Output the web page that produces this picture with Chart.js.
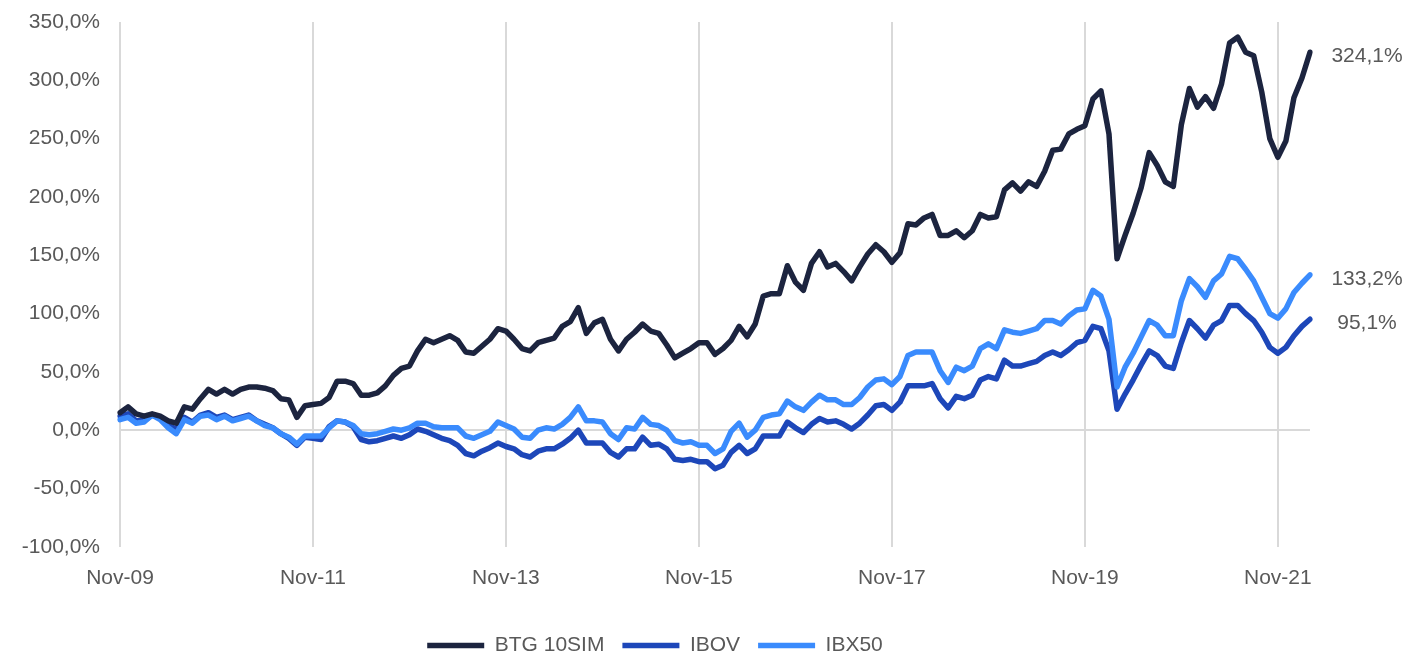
<!DOCTYPE html>
<html>
<head>
<meta charset="utf-8">
<script src="https://cdn.jsdelivr.net/npm/chart.js@4/dist/chart.umd.min.js"></script>
<style>
  html, body { margin: 0; padding: 0; background: #fff; }
  #wrap { width: 1411px; height: 656px; position: relative; }
</style>
</head>
<body>
<div id="wrap"><canvas id="chart"></canvas></div>
<script>
// monthly points, Nov-09 .. Mar-22
const monthNames = ['Jan','Feb','Mar','Apr','May','Jun','Jul','Aug','Sep','Oct','Nov','Dec'];
const labels = [];
for (let i = 0; i < 149; i++) {
  const m = (10 + i) % 12;
  const y = 9 + Math.floor((10 + i) / 12);
  labels.push(monthNames[m] + '-' + String(y).padStart(2, '0'));
}

const btg = [
  15, 20, 14, 12, 14, 12, 8, 6, 20, 18, 27, 35, 31, 35, 31, 35, 37, 37, 36, 34, 27, 26, 11, 21, 22,
  23, 28, 42, 42, 40, 30, 30, 32, 38, 47, 53, 55, 68, 78, 75, 78, 81, 77, 67, 66, 72, 78, 87, 85,
  78, 70, 68, 75, 77, 79, 89, 93, 105, 83, 92, 95, 78, 68, 78, 84, 91, 85, 83, 73, 62, 66, 70, 75,
  75, 65, 70, 77, 89, 80, 91, 115, 117, 117, 141, 127, 120, 143, 153, 140, 143, 136, 128, 140, 151, 159, 153, 144,
  152, 177, 176, 182, 185, 167, 167, 171, 165, 171, 185, 182, 183, 206, 212, 205, 213, 209, 222, 240, 241, 254, 258, 261,
  284, 291, 254, 147, 167, 186, 208, 238, 227, 213, 209, 262, 293, 277, 286, 276, 297, 332, 337, 324, 321, 290, 250, 234,
  248, 285, 302, 324.1
];
const ibov = [
  12, 14, 8, 8, 13, 11, 4, 1, 11, 7, 13, 15, 11, 13, 9, 11, 13, 8, 5, 2, -3, -7, -13, -6, -7,
  -8, 3, 8, 7, 3, -8, -10, -9, -7, -5, -7, -4, 1, -1, -4, -7, -9, -13, -20, -22, -18, -15, -11, -14,
  -16, -21, -23, -18, -16, -16, -12, -7, 0, -11, -11, -11, -19, -23, -16, -16, -6, -13, -12, -16, -25, -26, -25, -27,
  -27, -33, -30, -19, -13, -20, -16, -5, -5, -5, 7, 2, -2, 5, 10, 7, 8, 5, 1, 6, 13, 21, 22, 17,
  24, 38, 38, 38, 40, 27, 19, 29, 27, 30, 43, 46, 44, 60, 55, 55, 57, 59, 64, 67, 64, 69, 75, 77,
  89, 87, 68, 18, 31, 43, 56, 68, 64, 55, 53, 75, 94, 87, 79, 90, 94, 107, 107, 100, 94, 84, 71, 66,
  71, 81, 89, 95.1
];
const ibx50 = [
  9, 11, 6, 7, 13, 9, 2, -3, 9, 6, 12, 13, 9, 12, 8, 10, 12, 8, 4, 2, -3, -6, -12, -5, -5,
  -5, 2, 8, 7, 4, -3, -4, -3, -1, 1, 0, 2, 6, 6, 3, 2, 2, 2, -5, -7, -4, -1, 7, 4,
  1, -6, -7, 0, 2, 1, 5, 11, 20, 8, 8, 7, -3, -8, 2, 1, 11, 5, 4, 0, -9, -11, -10, -13,
  -13, -20, -16, -1, 6, -6, 0, 11, 13, 14, 25, 20, 17, 24, 30, 26, 26, 22, 22, 28, 37, 43, 44, 39,
  46, 64, 67, 67, 67, 51, 41, 54, 51, 55, 70, 74, 70, 86, 84, 83, 85, 87, 94, 94, 91, 98, 103, 104,
  120, 115, 95, 37, 54, 66, 80, 94, 90, 81, 81, 111, 130, 123, 114, 128, 134, 149, 147, 138, 128, 114, 100, 96,
  104, 118, 126, 133.2
];

const seriesNames = ['BTG 10SIM', 'IBOV', 'IBX50'];
const seriesColors = ['#1c243f', '#1d47b9', '#3a8bfd'];

const textColor = '#595959';
const gridColor = '#d9d9d9';
const fontFamily = '"Liberation Sans", Arial, sans-serif';
const pct = v => v.toFixed(1).replace('.', ',') + '%';

// value label right of the last point of each line
const endLabels = {
  id: 'endLabels',
  afterDatasetsDraw(chart) {
    const ctx = chart.ctx;
    ctx.save();
    ctx.font = '21px ' + fontFamily;
    ctx.fillStyle = textColor;
    ctx.textAlign = 'center';
    ctx.textBaseline = 'middle';
    chart.data.datasets.forEach((ds, i) => {
      const pts = chart.getDatasetMeta(i).data;
      const p = pts[pts.length - 1];
      ctx.fillText(pct(ds.data[ds.data.length - 1]), p.x + 57, p.y + 4);
    });
    ctx.restore();
  }
};

const line = (i, data, order) => ({
  label: seriesNames[i], data, order,
  borderColor: seriesColors[i], backgroundColor: seriesColors[i],
  borderWidth: 5.5, pointRadius: 0, tension: 0,
  borderCapStyle: 'round', borderJoinStyle: 'round', fill: false,
});

new Chart(document.getElementById('chart'), {
  type: 'line',
  data: {
    labels,
    datasets: [line(0, btg, 0), line(1, ibov, 2), line(2, ibx50, 1)],
  },
  options: {
    responsive: true,
    maintainAspectRatio: false,
    animation: false,
    layout: { padding: { top: 22, right: 101, bottom: -10, left: 0 } },
    plugins: {
      legend: {
        position: 'bottom',
        labels: {
          color: textColor,
          font: { family: fontFamily, size: 21 },
          usePointStyle: true, pointStyle: 'line', pointStyleWidth: 57,
          padding: 18,
          sort: (a, b) => a.datasetIndex - b.datasetIndex,
        },
      },
      tooltip: { enabled: false },
    },
    scales: {
      x: {
        offset: false,
        border: { display: false },
        grid: { color: gridColor, lineWidth: 2, drawTicks: false },
        afterBuildTicks: s => { s.ticks = s.ticks.filter(t => t.value % 24 === 0); },
        afterFit: s => { s.height += 7; },
        ticks: {
          autoSkip: false, maxRotation: 0, padding: 19,
          color: textColor,
          font: { family: fontFamily, size: 21 },
        },
      },
      y: {
        min: -100, max: 350,
        border: { display: false },
        grid: { color: c => c.tick && c.tick.value === 0 ? gridColor : 'transparent', lineWidth: 2, drawTicks: false },
        afterFit: s => { s.width = 120; s.paddingTop = 0; s.paddingBottom = 0; },
        ticks: {
          stepSize: 50, padding: 20,
          color: textColor,
          font: { family: fontFamily, size: 21 },
          callback: v => pct(v),
        },
      },
    },
  },
  plugins: [endLabels],
});
</script>
</body>
</html>
